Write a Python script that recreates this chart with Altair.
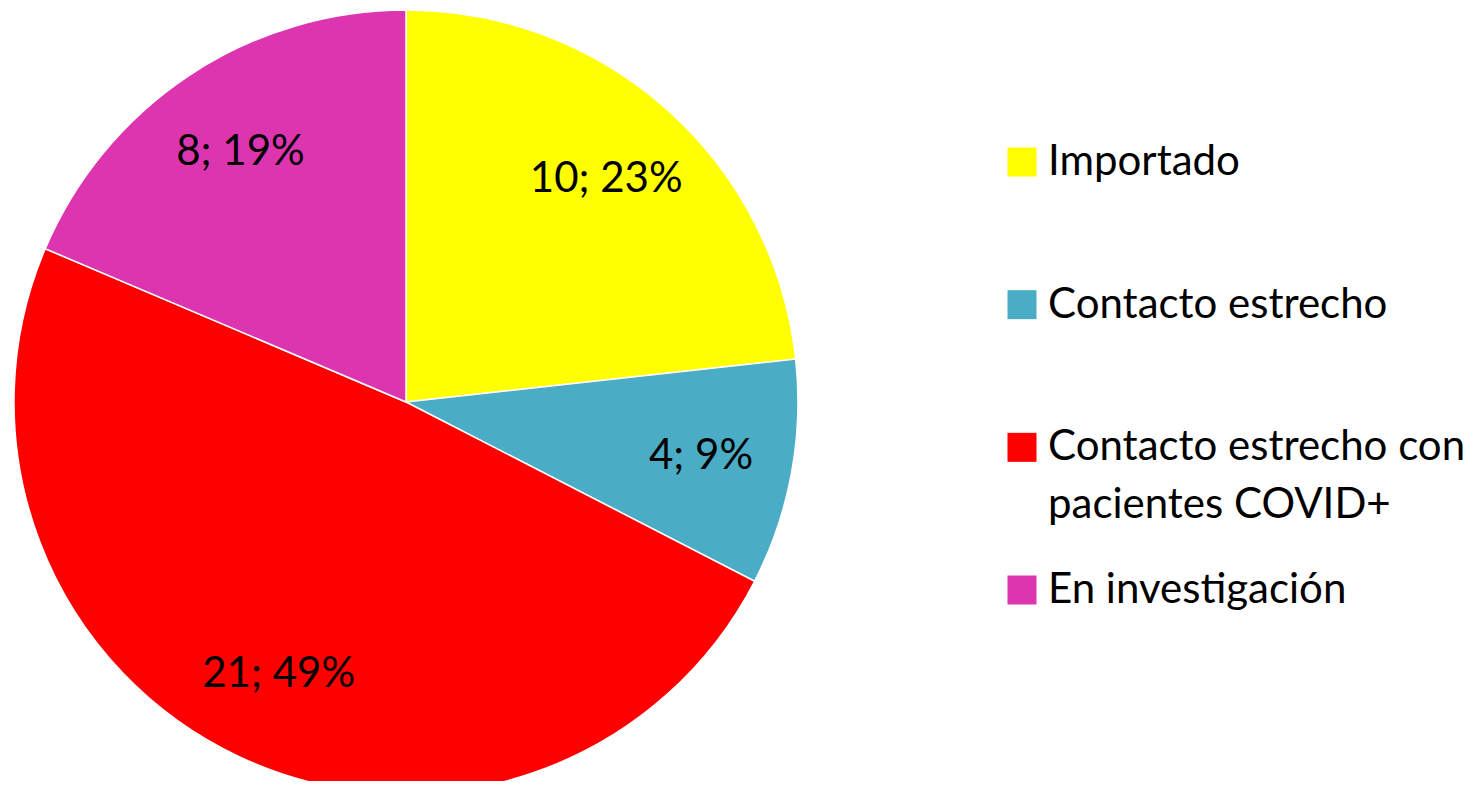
import altair as alt
import pandas as pd

categories = ["Importado", "Contacto estrecho", "Contacto estrecho con pacientes COVID+", "En investigación"]
legend_labels = ["Importado", "Contacto estrecho", "Contacto estrecho con\npacientes COVID+", "En investigación"]
values = [10, 4, 21, 8]
percents = [23, 9, 49, 19]
colors = ["#FFFF00", "#4BACC6", "#FF0000", "#DC35AF"]

df = pd.DataFrame({
    "cat": categories,
    "legend": legend_labels,
    "value": values,
    "idx": list(range(len(categories))),
    "label": [f"{v}; {p}%" for v, p in zip(values, percents)],
})

FONT = "Lato"
cx, cy, R = 398, 394, 392

color = alt.Color("cat:N", scale=alt.Scale(domain=categories, range=colors), legend=None)

base = alt.Chart(df)

pie = base.mark_arc(radius=R, stroke="white", strokeWidth=1.5).encode(
    theta=alt.Theta("value:Q", stack=True),
    color=color,
    order=alt.Order("idx:Q"),
    x=alt.value(cx),
    y=alt.value(cy),
)

slice_text = base.mark_text(radius=300, font=FONT, fontSize=42, color="black").encode(
    theta=alt.Theta("value:Q", stack=True),
    order=alt.Order("idx:Q"),
    text="label:N",
    x=alt.value(cx),
    y=alt.value(cy),
)

ypos = alt.Y("cat:N", sort=categories,
             scale=alt.Scale(type="point", range=[154, 582], padding=0), axis=None)

legend_sq = base.mark_square(size=841, opacity=1).encode(
    x=alt.value(1014),
    y=ypos,
    color=color,
)

legend_txt = base.mark_text(align="left", baseline="middle", font=FONT, fontSize=42,
                            color="black", lineBreak="\n", lineHeight=58).encode(
    x=alt.value(1040),
    y=ypos,
    text="legend:N",
)

chart = alt.layer(pie, slice_text, legend_sq, legend_txt).properties(
    width=1465, height=773,
    autosize=alt.AutoSizeParams(type="none"),
    padding=0,
    background="white",
).configure_view(stroke=None, strokeWidth=0)

chart.save("out.html", embed_options={"renderer": "svg", "actions": False})
